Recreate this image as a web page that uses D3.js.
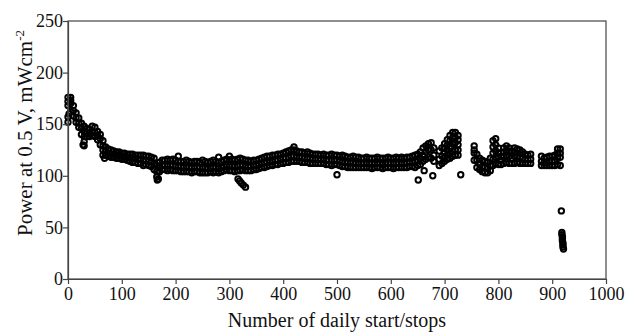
<!DOCTYPE html>
<html>
<head>
<meta charset="utf-8">
<script src="https://cdn.jsdelivr.net/npm/d3@7"></script>
<style>
  body { margin: 0; background: #fff; }
  text { font-family: "Liberation Serif", "Times New Roman", serif; fill: #111; }
</style>
</head>
<body>
<div id="chart"></div>
<script>
// readings taken every 5 start/stops: top, middle and bottom of the band
var days = [0,5,10,15,20,25,30,35,40,45,50,55,60,65,70,75,80,85,90,95,
  100,105,110,115,120,125,130,135,140,145,150,155,160,165,170,175,180,185,190,195,
  200,205,210,215,220,225,230,235,240,245,250,255,260,265,270,275,280,285,290,295,
  300,305,310,315,320,325,330,335,340,345,350,355,360,365,370,375,380,385,390,395,
  400,405,410,415,420,425,430,435,440,445,450,455,460,465,470,475,480,485,490,495,
  500,505,510,515,520,525,530,535,540,545,550,555,560,565,570,575,580,585,590,595,
  600,605,610,615,620,625,630,635,640,645,650,655,660,665,670,675,680,
  690,695,700,705,710,715,720,725,
  755,760,765,770,775,780,785,790,795,800,805,810,815,820,825,830,835,840,845,850,855,860,
  880,885,890,895,900,905,910,915];
var hi = [176,176,168,161,156,151,148,146,145,148,147,143,140,134,128,126,125,124,123,123,
  122,122,121,121,121,120,120,120,120,119,119,118,117,110,113,115,115,116,115,116,
  115,114,114,114,115,114,113,114,114,113,115,114,113,114,115,114,113,114,115,116,
  115,116,115,116,117,116,115,115,114,115,115,116,117,118,119,119,120,120,121,121,
  122,123,124,125,125,124,123,123,122,123,122,121,121,121,120,121,120,120,121,120,
  120,119,120,119,118,118,119,118,118,117,117,118,117,117,117,118,117,117,117,118,
  117,117,118,117,118,117,118,118,119,120,121,123,127,129,131,132,127,
  124,127,131,135,139,142,142,139,
  129,121,117,115,114,113,117,134,136,127,119,127,129,127,124,127,126,125,123,121,120,121,
  119,117,118,119,119,120,126,126];
var mid = [168,170,163,156,151,146,143,141,141,143,142,139,136,129,124,122,121,121,120,120,
  119,119,118,118,117,117,116,116,115,115,114,114,112,104,108,110,110,110,110,110,
  109,109,109,108,109,108,108,108,108,108,108,108,107,108,108,108,107,108,109,110,
  109,110,109,110,110,110,109,109,109,110,110,111,112,113,113,114,114,115,115,116,
  117,117,118,119,119,118,118,118,117,117,117,116,116,116,116,116,115,115,115,115,
  115,114,114,113,113,113,113,112,112,112,112,112,112,112,112,112,112,111,112,112,
  112,112,112,112,112,112,113,113,113,114,115,117,120,123,125,125,120,
  116,119,122,125,128,131,132,130,
  122,115,111,109,108,107,110,122,124,118,115,119,120,119,117,119,119,118,117,116,116,116,
  114,113,113,114,114,114,118,118];
var lo = [157,162,158,152,147,140,133,138,138,139,138,135,130,120,120,119,118,118,117,117,
  116,116,115,114,113,113,112,112,110,111,110,109,106,99,104,106,106,105,106,105,
  105,105,104,104,104,104,103,104,104,103,103,103,103,104,103,104,103,104,105,106,
  105,105,104,105,105,106,105,105,105,106,106,107,108,108,109,110,110,111,111,112,
  112,113,113,114,114,114,114,113,113,113,112,112,112,112,112,112,111,111,110,111,
  111,110,109,109,108,108,108,108,108,108,108,108,108,107,108,108,108,107,108,108,
  108,107,108,108,108,108,108,109,109,108,110,111,114,116,118,117,114,
  110,112,114,116,117,119,120,120,
  115,108,106,104,103,103,105,110,112,111,111,112,113,112,112,112,113,112,112,112,112,112,
  110,110,110,110,110,110,111,110];

// extra readings where the band is tall
var fillDays = [0,5,30,65,700,700,705,705,710,710,715,715,720,720,725,725,
  755,790,790,795,795,800,810,815,820,830,835,910,915];
var fillVals = [172,173,138,125,127,118,130,120,134,122,137,124,137,125,135,125,
  125,128,116,130,118,122,123,124,123,123,122,122,122];

// single readings outside the band, and the final drop
var strayDays = [0,2,28,30,68,166,168,205,280,300,316,319,322,326,330,420,500,651,662,678,730,
  917,918,918,919,919,919,920,920,920,921];
var strayVals = [152,160,130,129,117,96,97,119,118,119,97,95,93,91,89,128,101,96,105,100,101,
  66,45,43,41,39,37,35,33,31,29,27];

var xTicks = [0,100,200,300,400,500,600,700,800,900,1000];
var yTicks = [0,50,100,150,200,250];

var margin = {top: 21, right: 21, bottom: 53, left: 68},
    width = 627 - margin.left - margin.right,
    height = 332 - margin.top - margin.bottom;

var svg = d3.select("#chart")
  .append("svg")
  .attr("width", width + margin.left + margin.right)
  .attr("height", height + margin.top + margin.bottom)
  .append("g")
  .attr("transform", "translate(" + margin.left + "," + margin.top + ")");

var x = d3.scaleLinear().domain([0, 1000]).range([0, width]);
var y = d3.scaleLinear().domain([0, 250]).range([height, 0]);

// points
var pts = [];
days.forEach(function(d, i) {
  pts.push([d, hi[i]], [d, mid[i]], [d, lo[i]]);
});
fillDays.forEach(function(d, i) { pts.push([d, fillVals[i]]); });
strayDays.forEach(function(d, i) { pts.push([d, strayVals[i]]); });

svg.append("g")
  .selectAll("circle")
  .data(pts)
  .enter()
  .append("circle")
  .attr("cx", d => x(d[0]))
  .attr("cy", d => y(d[1]))
  .attr("r", 2.7)
  .style("fill", "none")
  .style("stroke", "#000")
  .style("stroke-width", 2);

// frame
svg.append("rect")
  .attr("width", width)
  .attr("height", height)
  .style("fill", "none")
  .style("stroke", "#444")
  .style("stroke-width", 1.2);

var xAxis = svg.append("g")
  .attr("transform", "translate(0," + height + ")")
  .call(d3.axisBottom(x).tickValues(xTicks).tickFormat(d3.format("d"))
    .tickSize(5).tickSizeOuter(0).tickPadding(3));

var yAxis = svg.append("g")
  .call(d3.axisLeft(y).tickValues(yTicks).tickSize(5).tickSizeOuter(0).tickPadding(0));

[xAxis, yAxis].forEach(function(g) {
  g.select(".domain").style("stroke", "#444").style("stroke-width", 1.2);
  g.selectAll(".tick line").style("stroke", "#444").style("stroke-width", 1.2);
  g.selectAll(".tick text").style("font-size", "18px").style("font-family", "Liberation Serif");
});

// x label
svg.append("text")
  .attr("text-anchor", "middle")
  .attr("x", width / 2)
  .attr("y", height + 48)
  .style("font-size", "20px")
  .text("Number of daily start/stops");

// y label
var yl = svg.append("text")
  .attr("text-anchor", "middle")
  .attr("transform", "translate(-36," + (height / 2 - 17) + ") rotate(-90)")
  .style("font-size", "21px");
yl.append("tspan").text("Power at 0.5 V, mWcm");
yl.append("tspan").attr("dy", -8).style("font-size", "13px").text("-2");
</script>
</body>
</html>
